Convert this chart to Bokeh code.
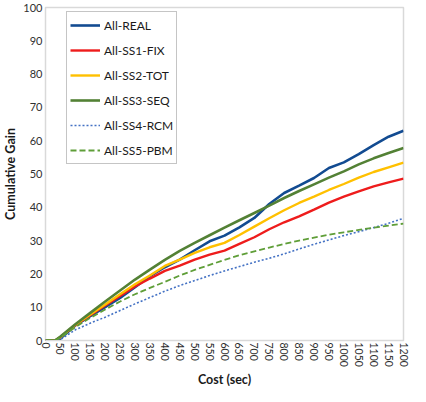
from bokeh.plotting import figure
from bokeh.models import Range1d, FixedTicker, Legend, LegendItem, Title
from bokeh.embed import file_html
from bokeh.resources import INLINE

cost = [0, 32, 50, 100, 150, 200, 250, 300, 350, 400, 450, 500, 550, 600,
        650, 700, 750, 800, 850, 900, 950, 1000, 1050, 1100, 1150, 1200]

real = [0, 0, 0.6, 4.5, 7.3, 10.0, 12.8, 16.0, 19.3, 22.0, 24.3, 27.1, 29.8, 31.5,
        34.0, 36.8, 41.0, 44.3, 46.5, 48.8, 51.8, 53.5, 56.0, 58.7, 61.2, 63.0]
ss1_fix = [0, 0, 1.0, 4.6, 7.6, 10.5, 13.4, 16.2, 18.6, 20.9, 22.5, 24.3, 25.8, 27.0,
           29.0, 31.0, 33.4, 35.5, 37.3, 39.3, 41.4, 43.2, 44.8, 46.3, 47.5, 48.6]
ss2_tot = [0, 0, 1.0, 4.7, 7.8, 10.8, 13.9, 16.9, 19.5, 22.4, 24.3, 26.3, 28.0, 29.3,
           31.7, 34.2, 36.7, 39.1, 41.3, 43.2, 45.2, 47.0, 48.9, 50.6, 52.0, 53.4]
ss3_seq = [0, 0, 1.2, 4.9, 8.3, 11.7, 15.0, 18.3, 21.3, 24.2, 26.9, 29.3, 31.6, 33.9,
           36.1, 38.3, 40.5, 42.8, 44.9, 46.9, 48.9, 50.8, 52.9, 54.7, 56.3, 57.8]
ss4_rcm = [0, 0, 0.3, 3.2, 5.2, 7.0, 9.0, 11.0, 12.9, 14.8, 16.5, 18.0, 19.5, 20.9,
           22.2, 23.5, 24.7, 26.0, 27.5, 28.9, 30.2, 31.5, 32.7, 33.9, 35.2, 36.7]
ss5_pbm = [0, 0, 0.9, 4.0, 6.8, 9.3, 11.7, 13.9, 15.8, 17.6, 19.5, 21.2, 22.7, 24.2,
           25.6, 26.8, 27.9, 29.0, 30.0, 30.9, 31.8, 32.5, 33.2, 33.9, 34.5, 35.1]

labels = ["All-REAL", "All-SS1-FIX", "All-SS2-TOT", "All-SS3-SEQ", "All-SS4-RCM", "All-SS5-PBM"]
x_ticks = list(range(0, 1201, 50))
y_ticks = list(range(0, 101, 10))
x_title = "Cost (sec)"
y_title = "Cumulative Gain"

FONT = "Lato"
TXT = "#303030"

p = figure(width=410, height=386, x_range=Range1d(0, 1200), y_range=Range1d(0, 100),
           output_backend="svg", toolbar_location=None,
           min_border_top=7, min_border_right=7, min_border_left=0, min_border_bottom=0)
p.background_fill_color = "white"
p.border_fill_color = "white"
p.grid.visible = False
p.outline_line_color = "#d9d9d9"
p.outline_line_width = 1.5

p.xaxis.ticker = FixedTicker(ticks=x_ticks)
p.yaxis.ticker = FixedTicker(ticks=y_ticks)
p.xaxis.major_label_orientation = "vertical"
for ax in (p.xaxis[0], p.yaxis[0]):
    ax.axis_line_color = "#d9d9d9"
    ax.major_tick_line_color = None
    ax.minor_tick_line_color = None
    ax.major_tick_out = 0
    ax.major_tick_in = 0
    ax.minor_tick_out = 0
    ax.minor_tick_in = 0
    ax.major_label_text_font = FONT
    ax.major_label_text_color = TXT
    ax.axis_label_text_font = FONT
    ax.axis_label_text_font_size = "12.5px"
    ax.axis_label_text_font_style = "bold"
    ax.axis_label_text_color = "#1a1a1a"
    ax.major_label_standoff = 3
    ax.axis_label_standoff = 2
p.xaxis.major_label_text_font_size = "10.5px"
p.xaxis.major_label_standoff = 2
p.yaxis.major_label_text_font_size = "11px"
p.yaxis.axis_line_color = None
p.yaxis.axis_label = y_title

xt = Title(text=x_title, align="center", text_font=FONT, text_font_size="12.5px",
           text_font_style="bold", text_color="#1a1a1a", standoff=0, offset=0)
p.add_layout(xt, "below")

series = [real, ss1_fix, ss2_tot, ss3_seq, ss4_rcm, ss5_pbm]
colors = ["#124b91", "#ee1c1c", "#ffc000", "#538135", "#4472c4", "#5f9e38"]
widths = [2.6, 2.4, 2.4, 2.6, 1.6, 1.8]
dashes = ["solid", "solid", "solid", "solid", "2 2", "6 3"]

items = []
for ys, c, w, d, lab in zip(series, colors, widths, dashes, labels):
    r = p.line(cost, ys, line_color=c, line_width=w, line_dash=d)
    items.append(LegendItem(label=lab, renderers=[r]))

leg = Legend(items=items, location=(21, 176))
leg.border_line_color = "#8c8c8c"
leg.border_line_width = 1
leg.background_fill_alpha = 1
leg.label_text_font = FONT
leg.label_text_font_size = "12px"
leg.label_text_color = "#1a1a1a"
leg.glyph_width = 30
leg.glyph_height = 20
leg.label_height = 20
leg.spacing = 5
leg.padding = 3
leg.margin = 0
leg.label_standoff = 4
p.add_layout(leg)

open("out.html", "w").write(file_html(p, INLINE))
